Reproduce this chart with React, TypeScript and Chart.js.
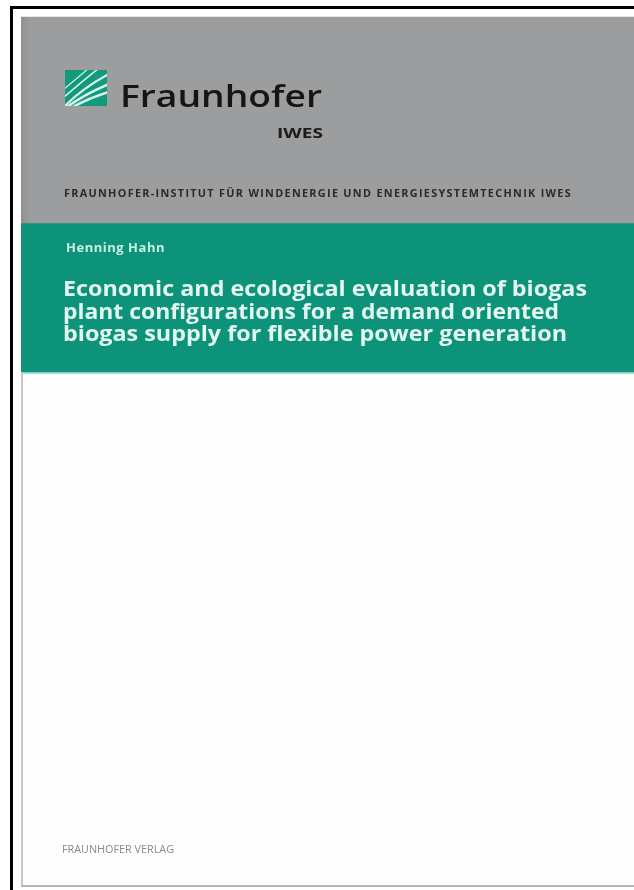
import { useEffect, useRef } from "react";
import { Chart, registerables } from "chart.js";

Chart.register(...registerables);

// ---- data: cover bands (vertical extents, in page pixels measured from top) ----
const bandNames = ["Grey header", "Green title band", "Teal rule", "White body"];
const bandStart = [17, 223, 372, 374];
const bandEnd = [223, 372, 374, 887];

// ---- text content ----
const brandName = "Fraunhofer";
const instituteShort = "IWES";
const instituteLine = "FRAUNHOFER-INSTITUT FÜR WINDENERGIE UND ENERGIESYSTEMTECHNIK IWES";
const authorName = "Henning Hahn";
const titleLines = [
  "Economic and ecological evaluation of biogas",
  "plant configurations for a demand oriented",
  "biogas supply for flexible power generation",
];
const publisher = "FRAUNHOFER VERLAG";

// ---- styles ----
const bandColors = ["#9c9d9f", "#0c937a", "#a9e3d5", "#fefefe"];
const W = 634;
const H = 890;

function fitText(
  ctx: CanvasRenderingContext2D,
  text: string,
  x: number,
  y: number,
  width: number,
  font: string,
  color: string,
  spacing = 0
) {
  ctx.save();
  ctx.font = font;
  (ctx as any).letterSpacing = spacing + "px";
  ctx.fillStyle = color;
  ctx.textBaseline = "alphabetic";
  ctx.textAlign = "left";
  const w = ctx.measureText(text).width;
  ctx.translate(x, y);
  ctx.scale(width / w, 1);
  ctx.fillText(text, 0, 0);
  ctx.restore();
}

const coverPlugin = {
  id: "coverDecor",
  afterDatasetsDraw(chart: any) {
    const ctx: CanvasRenderingContext2D = chart.ctx;
    ctx.save();
    // grey header shading near left edge
    const g = ctx.createLinearGradient(21, 0, 30, 0);
    g.addColorStop(0, "rgba(120,120,122,0.35)");
    g.addColorStop(1, "rgba(120,120,122,0)");
    ctx.fillStyle = g;
    ctx.fillRect(21, 17, 9, 206);

    // white body border (left and bottom)
    ctx.fillStyle = "#c9c9c9";
    ctx.fillRect(21, 374, 2, 513);
    ctx.fillStyle = "#b5b5b5";
    ctx.fillRect(21, 885, W - 21, 2);

    // outer black frame
    ctx.fillStyle = "#000";
    ctx.fillRect(10, 6, W - 10, 3);
    ctx.fillRect(10, 6, 3, H - 6);

    // logo square
    const lx = 65, ly = 70, lw = 42, lh = 36;
    ctx.fillStyle = "#139a7c";
    ctx.fillRect(lx, ly, lw, lh);
    ctx.save();
    ctx.beginPath();
    ctx.rect(lx, ly, lw, lh);
    ctx.clip();
    ctx.strokeStyle = "#d6f3ec";
    ctx.lineCap = "round";
    const streaks = [
      [lx + 1, ly + lh - 1, lx + 18, ly + 18, lx + lw + 2, ly + 4, 2.2],
      [lx + 2, ly + lh + 1, lx + 20, ly + 24, lx + lw + 2, ly + 14, 2.6],
      [lx + 6, ly + lh + 2, lx + 24, ly + 28, lx + lw + 2, ly + 22, 2.4],
      [lx - 2, ly + lh - 8, lx + 14, ly + 14, lx + 34, ly - 2, 1.6],
      [lx - 2, ly + lh - 16, lx + 10, ly + 10, lx + 24, ly - 2, 1.2],
    ];
    for (const s of streaks) {
      ctx.lineWidth = s[6];
      ctx.beginPath();
      ctx.moveTo(s[0], s[1]);
      ctx.quadraticCurveTo(s[2], s[3], s[4], s[5]);
      ctx.stroke();
    }
    ctx.restore();

    // brand texts
    fitText(ctx, brandName, 120, 107, 202, '600 31px "Open Sans"', "#151515");
    fitText(ctx, instituteShort, 277, 138, 46, '700 15px "Open Sans"', "#1c1c1c");
    fitText(ctx, instituteLine, 64, 197, 508, '700 10px "Open Sans"', "#2a2a2a", 1.2);

    // green band texts
    fitText(ctx, authorName, 66, 252, 99, '700 12px "Open Sans"', "#c8efe4", 0.5);
    const titleW = [524, 496, 504];
    const titleY = [296, 318.5, 341];
    titleLines.forEach((t, i) =>
      fitText(ctx, t, 63, titleY[i], titleW[i], '700 22px "Open Sans"', "#e4f6f0")
    );

    // publisher
    fitText(ctx, publisher, 62, 853, 112, '400 10.5px "Open Sans"', "#8a8a8a");
    ctx.restore();
  },
};

export default function App() {
  const ref = useRef<HTMLCanvasElement | null>(null);
  useEffect(() => {
    if (!ref.current) return;
    document.body.style.margin = "0";
    const chart = new Chart(ref.current, {
      type: "bar",
      data: {
        labels: ["cover"],
        datasets: bandNames.map((name, i) => ({
          label: name,
          data: [[bandStart[i], bandEnd[i]]] as any,
          backgroundColor: bandColors[i],
          borderWidth: 0,
          grouped: false,
          barPercentage: 1,
          categoryPercentage: 1,
        })),
      },
      options: {
        responsive: false,
        animation: false,
        devicePixelRatio: 1,
        layout: { padding: { left: 21, right: 0, top: 0, bottom: 0 } },
        plugins: { legend: { display: false }, tooltip: { enabled: false } },
        scales: {
          x: { display: false, offset: true, grid: { display: false } },
          y: { display: false, min: 0, max: H, reverse: true, grid: { display: false } },
        },
      },
      plugins: [coverPlugin],
    });
    return () => chart.destroy();
  }, []);
  return (
    <div style={{ position: "absolute", left: 0, top: 0, width: W, height: H, background: "#fff" }}>
      <canvas ref={ref} width={W} height={H} style={{ display: "block" }} />
    </div>
  );
}
